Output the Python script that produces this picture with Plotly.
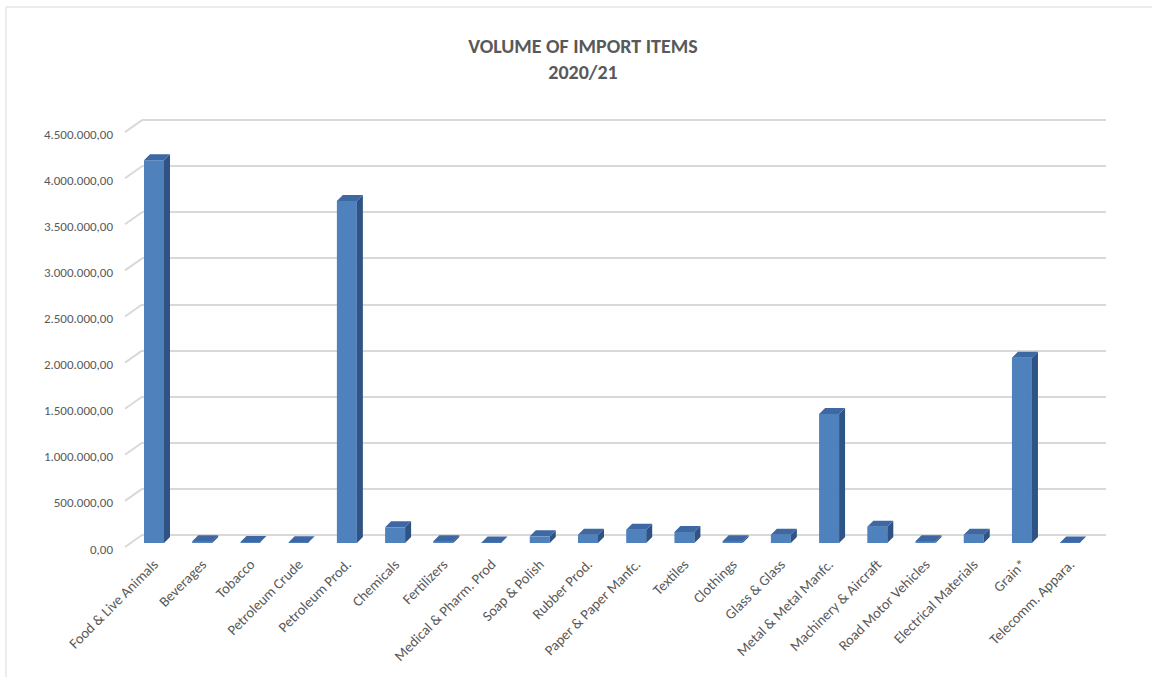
import plotly.graph_objects as go

categories = [
    "Food & Live Animals", "Beverages", "Tobacco", "Petroleum Crude",
    "Petroleum Prod.", "Chemicals", "Fertilizers", "Medical & Pharm. Prod",
    "Soap & Polish", "Rubber Prod.", "Paper & Paper Manfc.", "Textiles",
    "Clothings", "Glass & Glass", "Metal & Metal Manfc.",
    "Machinery & Aircraft", "Road Motor Vehicles", "Electrical Materials",
    "Grain*", "Telecomm. Appara.",
]
volumes = [
    4150000, 20000, 10000, 8000,
    3710000, 170000, 20000, 5000,
    72000, 90000, 145000, 120000,
    20000, 90000, 1400000,
    177000, 20000, 90000,
    2010000, 5000,
]
y_ticks = [0, 500000, 1000000, 1500000, 2000000, 2500000,
           3000000, 3500000, 4000000, 4500000]

# page geometry (pixels)
W, H = 1152, 677
ML, MR, MT, MB = 142, 46, 110, 125
plot_h = H - MT - MB
px_per_unit = 92.2 / 1e6          # pixels per import unit
front_zero_px = 9                 # bar plane zero above plot bottom
back_zero_px = 17                 # back wall zero above plot bottom
slot_px = 48.22
first_center_px = 12

x_lo = -first_center_px / slot_px
x_hi = (W - ML - MR - first_center_px) / slot_px
y_lo = -front_zero_px / px_per_unit
y_hi = y_lo + plot_h / px_per_unit
y2_lo = -back_zero_px / px_per_unit
y2_hi = y2_lo + plot_h / px_per_unit

bar_w = 20 / slot_px
dx = 6 / slot_px
dy = 6 / px_per_unit

FRONT = "#4f81bd"
SIDE = "#2f5385"
TOP = "#3d68a3"
TEXT = "#595959"
GRID = "#d9d9d9"
FONT = "Calibri, Carlito, Lato, sans-serif"

xs = list(range(len(categories)))

side_x, side_y, top_x, top_y = [], [], [], []
for x, v in zip(xs, volumes):
    r = x + bar_w / 2
    l = x - bar_w / 2
    side_x += [r, r + dx, r + dx, r, r, None]
    side_y += [0, dy, v + dy, v, 0, None]
    top_x += [l, r, r + dx, l + dx, l, None]
    top_y += [v, v, v + dy, v + dy, v, None]

fig = go.Figure()
fig.add_trace(go.Bar(
    x=xs, y=volumes, width=bar_w, marker=dict(color=FRONT, line=dict(width=0)),
    hovertext=categories, name="Volume",
))
fig.add_trace(go.Scatter(
    x=side_x, y=side_y, mode="lines", fill="toself", fillcolor=SIDE,
    line=dict(width=0, color=SIDE), hoverinfo="skip",
))
fig.add_trace(go.Scatter(
    x=top_x, y=top_y, mode="lines", fill="toself", fillcolor=TOP,
    line=dict(width=0, color=TOP), hoverinfo="skip",
))

# side-wall connectors from each back-wall gridline down to its label
shapes = []
for t in y_ticks:
    shapes.append(dict(
        type="line", xref="x domain", yref="y2 domain",
        xsizemode="pixel", ysizemode="pixel",
        xanchor=0, yanchor=(t - y2_lo) / (y2_hi - y2_lo),
        x0=-17, x1=0, y0=-12, y1=0,
        line=dict(color=GRID, width=2),
    ))
# chart border
shapes.append(dict(
    type="rect", xref="paper", yref="paper",
    x0=(6 - ML) / (W - ML - MR), x1=(W + 5 - ML) / (W - ML - MR),
    y0=-(H + 5 - MT - plot_h) / plot_h, y1=(H - 7 - MB) / plot_h,
    line=dict(color=GRID, width=1), fillcolor="rgba(0,0,0,0)",
))

fig.update_layout(
    width=W, height=H,
    margin=dict(l=ML, r=MR, t=MT, b=MB, pad=0),
    paper_bgcolor="white", plot_bgcolor="white",
    separators=",.",
    showlegend=False,
    font=dict(family=FONT, color=TEXT, size=11),
    title=dict(
        text="<b>VOLUME OF IMPORT ITEMS<br>2020/21</b>",
        x=583 / W, xref="container", xanchor="center",
        y=1 - 53 / H, yref="container", yanchor="middle",
        font=dict(family=FONT, size=20, color=TEXT),
    ),
    xaxis=dict(
        range=[x_lo, x_hi], tickvals=xs, ticktext=categories,
        tickangle=-45, showgrid=False, zeroline=False, showline=False,
        ticks="", tickfont=dict(size=14.5, color=TEXT),
    ),
    yaxis=dict(
        range=[y_lo, y_hi], tickvals=y_ticks, tickformat=",.2f",
        showgrid=False, zeroline=False, showline=False, ticks="",
        ticklabelstandoff=28, ticklabelshift=6,
        tickfont=dict(size=13, color=TEXT),
    ),
    yaxis2=dict(
        range=[y2_lo, y2_hi], tickvals=y_ticks, overlaying="y",
        showgrid=True, gridcolor=GRID, gridwidth=2, zeroline=False,
        showticklabels=False, showline=False, ticks="",
    ),
    shapes=shapes,
)

# invisible trace so the back-wall axis is drawn
fig.add_trace(go.Scatter(x=[x_lo], y=[0], yaxis="y2", mode="markers",
                         marker=dict(opacity=0), hoverinfo="skip"))

fig.write_html("out.html")
